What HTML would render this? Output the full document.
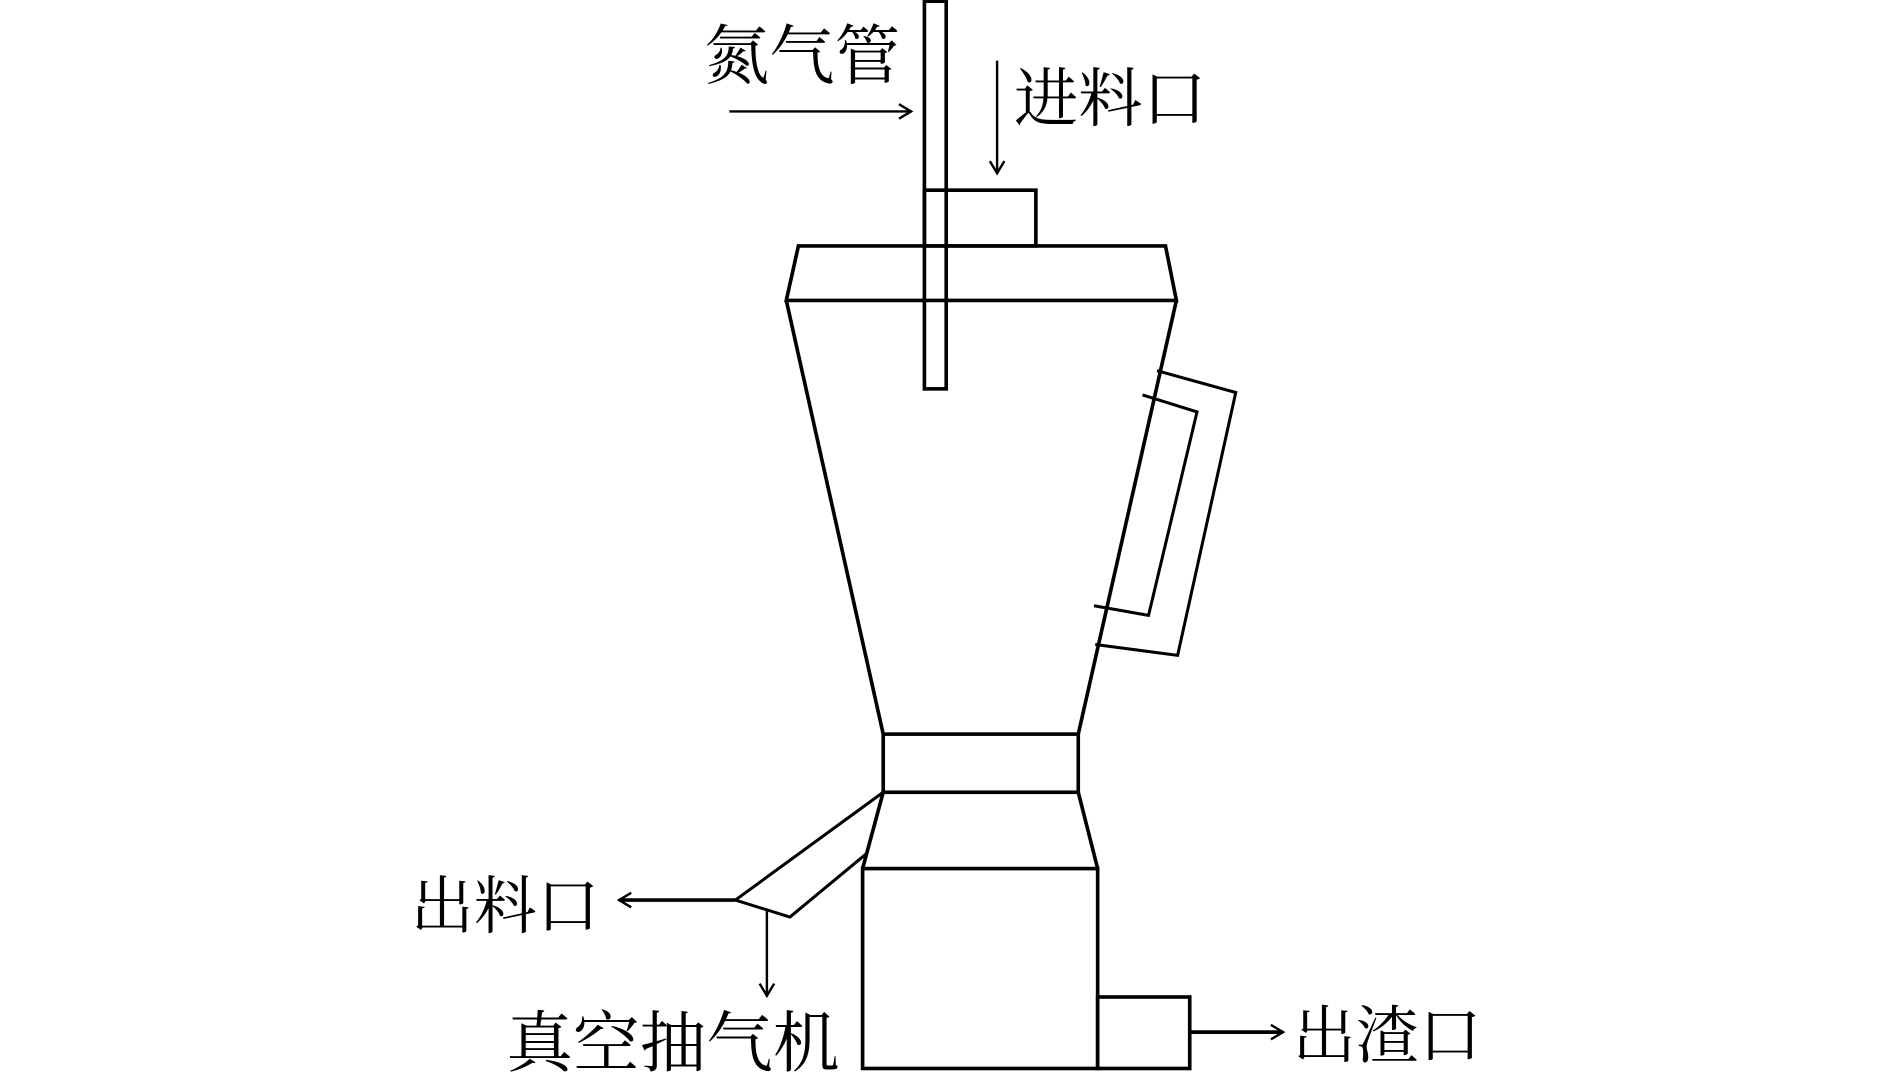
<!DOCTYPE html>
<html><head><meta charset="utf-8"><style>
html,body{margin:0;padding:0;background:#fff;}
svg{display:block;}
text{font-family:"Liberation Serif","Noto Serif CJK SC",serif;fill:#000;}
</style></head><body>
<svg width="1890" height="1083" viewBox="0 0 1560 894" preserveAspectRatio="none" xmlns="http://www.w3.org/2000/svg">
<defs>
<marker id="a" markerWidth="14" markerHeight="14" refX="12" refY="7" orient="auto" markerUnits="userSpaceOnUse">
<path d="M2,1 L12,7 L2,13" fill="none" stroke="#000" stroke-width="2"/>
</marker>
</defs>
<g fill="none" stroke="#000" stroke-width="3">
<!-- lid -->
<polygon points="659,203 962,203 971,248 649,248"/>
<!-- funnel -->
<polyline points="649,248 729,606"/>
<polyline points="971,248 890,606"/>
<rect x="729" y="606" width="161" height="48"/>
<polyline points="729,654 712,717"/>
<polyline points="890,654 906,717"/>
<rect x="712" y="717" width="194" height="165"/>
<rect x="906" y="823" width="76" height="59"/>
<!-- tube & feed box -->
<rect x="763" y="1" width="18" height="320"/>
<rect x="763" y="157" width="92" height="46"/>
<!-- handle -->
<polyline points="955,306 1020,324 972,541 904,532" stroke-width="2.5"/>
<polyline points="943,326 988,340 948,508 903,500" stroke-width="2.5"/>
<!-- chute -->
<polyline points="729,654 607,743 652,757 716,704" stroke-width="2.5"/>
</g>
<g stroke="#000" stroke-width="2" fill="none">
<line x1="602" y1="92" x2="752" y2="92" marker-end="url(#a)"/>
<line x1="823" y1="50" x2="823" y2="143" marker-end="url(#a)"/>
<line x1="607" y1="743" x2="511" y2="743" stroke-width="3" marker-end="url(#a)"/>
<line x1="633" y1="750" x2="633" y2="822" marker-end="url(#a)"/>
<line x1="982" y1="852" x2="1059" y2="852" stroke-width="3" marker-end="url(#a)"/>
</g>
<text x="581" y="65" font-size="54">氮气管</text>
<text x="837" y="100" font-size="53">进料口</text>
<text x="339" y="766" font-size="52">出料口</text>
<text x="418" y="880" font-size="55">真空抽气机</text>
<text x="1067" y="873" font-size="52">出渣口</text>
</svg>
</body></html>
